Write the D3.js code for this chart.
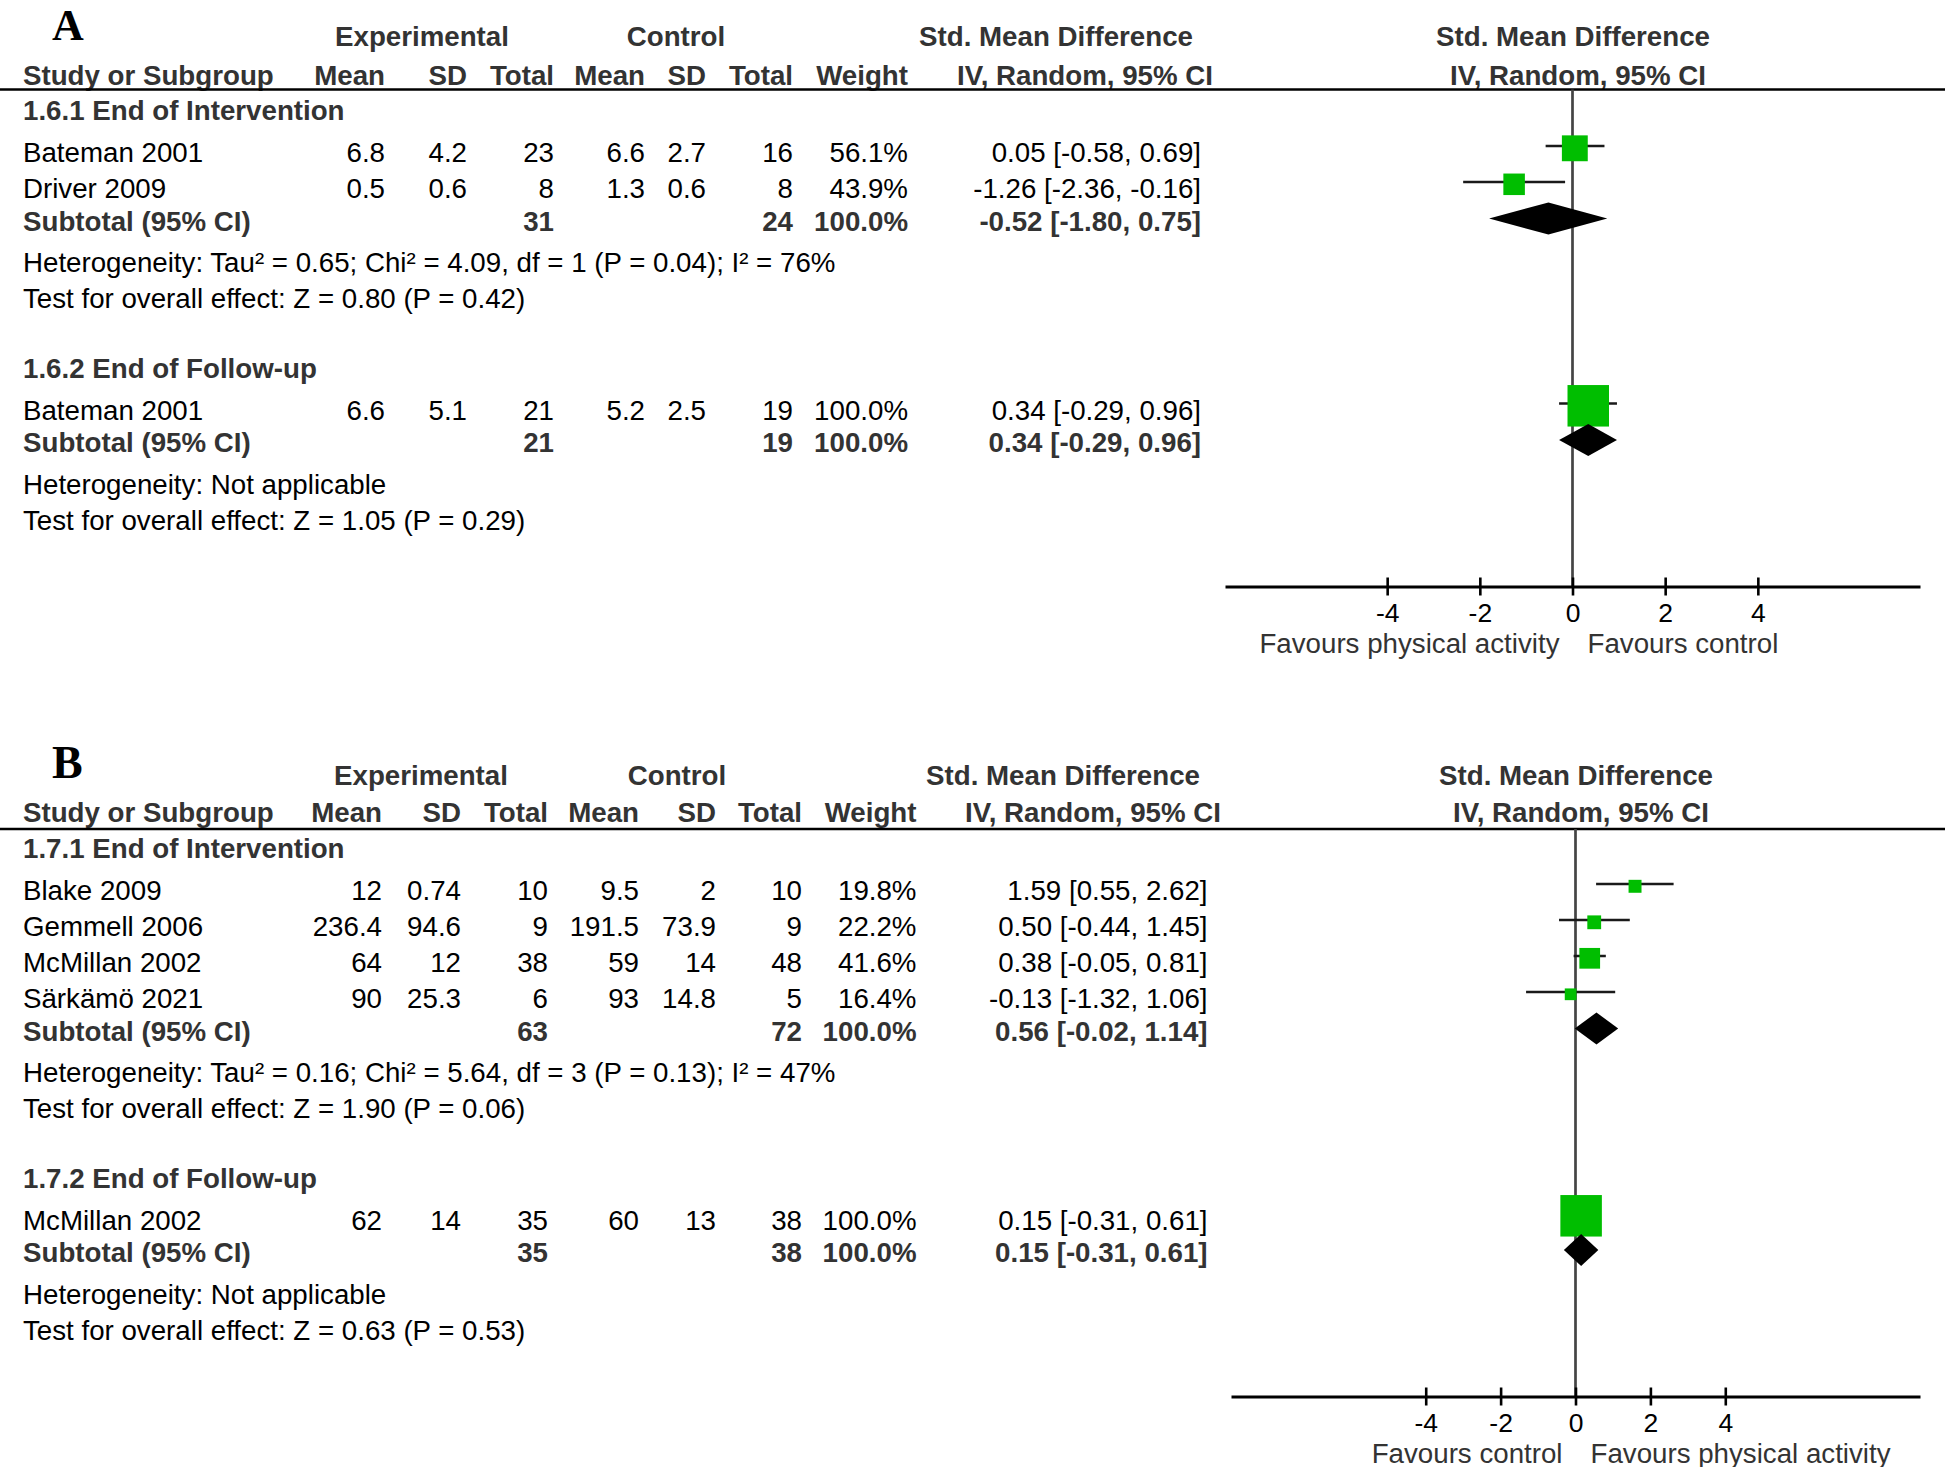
<!DOCTYPE html>
<html><head><meta charset="utf-8">
<script src="https://cdn.jsdelivr.net/npm/d3@7"></script>
<style>body{margin:0;background:#fff}</style>
</head><body>
<svg id="chart" width="1945" height="1467"></svg>
<script>
// ================= DATA =================
const panelLabels = ["A", "B"];
const headerTop = ["Experimental", "Control", "Std. Mean Difference", "Std. Mean Difference"];
const headerCols = ["Study or Subgroup", "Mean", "SD", "Total", "Mean", "SD", "Total", "Weight", "IV, Random, 95% CI", "IV, Random, 95% CI"];
const tickValues = [-4, -2, 0, 2, 4];
const favoursA = ["Favours physical activity", "Favours control"];
const favoursB = ["Favours control", "Favours physical activity"];

// Panel A, subgroup 1.6.1
const a1Name = "1.6.1 End of Intervention";
const a1Studies = ["Bateman 2001", "Driver 2009"];
const a1ExpMean = [6.8, 0.5];
const a1ExpSD = [4.2, 0.6];
const a1ExpN = [23, 8];
const a1CtlMean = [6.6, 1.3];
const a1CtlSD = [2.7, 0.6];
const a1CtlN = [16, 8];
const a1Weight = [56.1, 43.9];
const a1SMD = [0.05, -1.26];
const a1Lower = [-0.58, -2.36];
const a1Upper = [0.69, -0.16];
const a1Subtotal = [31, 24, 100.0, -0.52, -1.80, 0.75]; // expN, ctlN, weight, smd, lower, upper
const a1Het = "Heterogeneity: Tau² = 0.65; Chi² = 4.09, df = 1 (P = 0.04); I² = 76%";
const a1Test = "Test for overall effect: Z = 0.80 (P = 0.42)";

// Panel A, subgroup 1.6.2
const a2Name = "1.6.2 End of Follow-up";
const a2Studies = ["Bateman 2001"];
const a2ExpMean = [6.6];
const a2ExpSD = [5.1];
const a2ExpN = [21];
const a2CtlMean = [5.2];
const a2CtlSD = [2.5];
const a2CtlN = [19];
const a2Weight = [100.0];
const a2SMD = [0.34];
const a2Lower = [-0.29];
const a2Upper = [0.96];
const a2Subtotal = [21, 19, 100.0, 0.34, -0.29, 0.96];
const a2Het = "Heterogeneity: Not applicable";
const a2Test = "Test for overall effect: Z = 1.05 (P = 0.29)";

// Panel B, subgroup 1.7.1
const b1Name = "1.7.1 End of Intervention";
const b1Studies = ["Blake 2009", "Gemmell 2006", "McMillan 2002", "Särkämö 2021"];
const b1ExpMean = [12, 236.4, 64, 90];
const b1ExpSD = [0.74, 94.6, 12, 25.3];
const b1ExpN = [10, 9, 38, 6];
const b1CtlMean = [9.5, 191.5, 59, 93];
const b1CtlSD = [2, 73.9, 14, 14.8];
const b1CtlN = [10, 9, 48, 5];
const b1Weight = [19.8, 22.2, 41.6, 16.4];
const b1SMD = [1.59, 0.50, 0.38, -0.13];
const b1Lower = [0.55, -0.44, -0.05, -1.32];
const b1Upper = [2.62, 1.45, 0.81, 1.06];
const b1Subtotal = [63, 72, 100.0, 0.56, -0.02, 1.14];
const b1Het = "Heterogeneity: Tau² = 0.16; Chi² = 5.64, df = 3 (P = 0.13); I² = 47%";
const b1Test = "Test for overall effect: Z = 1.90 (P = 0.06)";

// Panel B, subgroup 1.7.2
const b2Name = "1.7.2 End of Follow-up";
const b2Studies = ["McMillan 2002"];
const b2ExpMean = [62];
const b2ExpSD = [14];
const b2ExpN = [35];
const b2CtlMean = [60];
const b2CtlSD = [13];
const b2CtlN = [38];
const b2Weight = [100.0];
const b2SMD = [0.15];
const b2Lower = [-0.31];
const b2Upper = [0.61];
const b2Subtotal = [35, 38, 100.0, 0.15, -0.31, 0.61];
const b2Het = "Heterogeneity: Not applicable";
const b2Test = "Test for overall effect: Z = 0.63 (P = 0.53)";

// ================= BUILD =================
function makeGroup(name, studies, em, esd, en, cm, csd, cn, w, smd, lo, hi, sub, het, test) {
  return {
    name, het, test,
    studies: studies.map((s, i) => ({name: s, em: em[i], esd: esd[i], en: en[i], cm: cm[i], csd: csd[i], cn: cn[i], w: w[i], smd: smd[i], lo: lo[i], hi: hi[i]})),
    sub: {en: sub[0], cn: sub[1], w: sub[2], smd: sub[3], lo: sub[4], hi: sub[5]}
  };
}
const groupsA = [
  makeGroup(a1Name, a1Studies, a1ExpMean, a1ExpSD, a1ExpN, a1CtlMean, a1CtlSD, a1CtlN, a1Weight, a1SMD, a1Lower, a1Upper, a1Subtotal, a1Het, a1Test),
  makeGroup(a2Name, a2Studies, a2ExpMean, a2ExpSD, a2ExpN, a2CtlMean, a2CtlSD, a2CtlN, a2Weight, a2SMD, a2Lower, a2Upper, a2Subtotal, a2Het, a2Test)
];
const groupsB = [
  makeGroup(b1Name, b1Studies, b1ExpMean, b1ExpSD, b1ExpN, b1CtlMean, b1CtlSD, b1CtlN, b1Weight, b1SMD, b1Lower, b1Upper, b1Subtotal, b1Het, b1Test),
  makeGroup(b2Name, b2Studies, b2ExpMean, b2ExpSD, b2ExpN, b2CtlMean, b2CtlSD, b2CtlN, b2Weight, b2SMD, b2Lower, b2Upper, b2Subtotal, b2Het, b2Test)
];

// ================= LAYOUT =================
const W = 1945;
const FONT = "'Liberation Sans', Arial, Helvetica, sans-serif";
const FS = 27.7;
const GREEN = "#00BE00";
const HEAD = "#333";

const layoutA = {
  letter: panelLabels[0], letterY: 40, letterSize: 44,
  h1: 46, h2: 85, lineY: 89.5, firstRow: 120,
  cols: [385, 467, 554, 645, 706, 793, 908, 1201],
  expC: 422, ctlC: 676, smdC: 1056, ivC: 1085,
  fSmdC: 1573, fIvC: 1578,
  domain: [-7.5, 7.5], range: [1225, 1920],
  favours: favoursA
};
const layoutB = {
  letter: panelLabels[1], letterY: 778, letterSize: 46,
  h1: 785, h2: 822, lineY: 829, firstRow: 858,
  cols: [382, 461, 548, 639, 716, 802, 916.5, 1207.5],
  expC: 421, ctlC: 677, smdC: 1063, ivC: 1093,
  fSmdC: 1576, fIvC: 1581,
  domain: [-9.2, 9.2], range: [1231, 1920],
  favours: favoursB
};

const svg = d3.select("#chart");
svg.append("rect").attr("width", W).attr("height", 1467).attr("fill", "#fff");

const sizeScale = d3.scaleLinear().domain([0, 100]).range([5.9, 41.5]);
const f2 = v => v.toFixed(2);
const f1 = v => v.toFixed(1);
const ciText = (s, lo, hi) => `${f2(s)} [${f2(lo)}, ${f2(hi)}]`;

function txt(g, x, y, s, opts = {}) {
  return g.append("text")
    .attr("x", x).attr("y", y)
    .attr("font-family", FONT)
    .attr("font-size", opts.size || FS)
    .attr("font-weight", opts.bold ? "bold" : "normal")
    .attr("fill", opts.fill || (opts.bold ? HEAD : "#000"))
    .attr("text-anchor", opts.anchor || "start")
    .text(s);
}

function drawPanel(groups, L) {
  const g = svg.append("g");
  const x = d3.scaleLinear().domain(L.domain).range(L.range);

  // panel letter
  g.append("text").attr("x", 52).attr("y", L.letterY)
    .attr("font-family", "'Liberation Serif', 'Times New Roman', serif")
    .attr("font-size", L.letterSize).attr("font-weight", "bold").attr("fill", "#000")
    .text(L.letter);

  // header row 1
  txt(g, L.expC, L.h1, headerTop[0], {bold: true, anchor: "middle"});
  txt(g, L.ctlC, L.h1, headerTop[1], {bold: true, anchor: "middle"});
  txt(g, L.smdC, L.h1, headerTop[2], {bold: true, anchor: "middle"});
  txt(g, L.fSmdC, L.h1, headerTop[3], {bold: true, anchor: "middle"});
  // header row 2
  txt(g, 23, L.h2, headerCols[0], {bold: true});
  for (let i = 0; i < 7; i++) txt(g, L.cols[i], L.h2, headerCols[i + 1], {bold: true, anchor: "end"});
  txt(g, L.ivC, L.h2, headerCols[8], {bold: true, anchor: "middle"});
  txt(g, L.fIvC, L.h2, headerCols[9], {bold: true, anchor: "middle"});

  // header rule
  g.append("line").attr("x1", 0).attr("x2", W).attr("y1", L.lineY).attr("y2", L.lineY)
    .attr("stroke", "#000").attr("stroke-width", 2.6);

  // rows
  let y = L.firstRow;
  const marks = [];
  groups.forEach((grp, gi) => {
    if (gi > 0) y += 69.5;
    txt(g, 23, y, grp.name, {bold: true});
    grp.studies.forEach((s, si) => {
      y += si === 0 ? 42 : 36;
      txt(g, 23, y, s.name);
      const vals = [s.em, s.esd, s.en, s.cm, s.csd, s.cn];
      vals.forEach((v, i) => txt(g, L.cols[i], y, String(v), {anchor: "end"}));
      txt(g, L.cols[6], y, f1(s.w) + "%", {anchor: "end"});
      txt(g, L.cols[7], y, ciText(s.smd, s.lo, s.hi), {anchor: "end"});
      marks.push({type: "study", y, d: s});
    });
    y += 32.5;
    txt(g, 23, y, "Subtotal (95% CI)", {bold: true});
    txt(g, L.cols[2], y, String(grp.sub.en), {bold: true, anchor: "end"});
    txt(g, L.cols[5], y, String(grp.sub.cn), {bold: true, anchor: "end"});
    txt(g, L.cols[6], y, f1(grp.sub.w) + "%", {bold: true, anchor: "end"});
    txt(g, L.cols[7], y, ciText(grp.sub.smd, grp.sub.lo, grp.sub.hi), {bold: true, anchor: "end"});
    marks.push({type: "sub", y, d: grp.sub});
    y += 41.5;
    txt(g, 23, y, grp.het);
    y += 36;
    txt(g, 23, y, grp.test);
  });

  const axisY = y + 57;

  // zero line
  g.append("line").attr("x1", x(0)).attr("x2", x(0)).attr("y1", L.lineY).attr("y2", axisY)
    .attr("stroke", "#444").attr("stroke-width", 2.7);

  // markers
  marks.forEach(m => {
    if (m.type === "study") {
      g.append("line").attr("x1", x(m.d.lo)).attr("x2", x(m.d.hi))
        .attr("y1", m.y - 16).attr("y2", m.y - 16)
        .attr("stroke", "#1a1a1a").attr("stroke-width", 2.6);
      const sz = sizeScale(m.d.w);
      g.append("rect").attr("x", x(m.d.smd) - sz / 2).attr("y", m.y - 13.7 - sz / 2)
        .attr("width", sz).attr("height", sz).attr("fill", GREEN);
    } else {
      const cy = m.y - 12, h = 16;
      g.append("path")
        .attr("d", `M${x(m.d.lo)},${cy} L${x(m.d.smd)},${cy - h} L${x(m.d.hi)},${cy} L${x(m.d.smd)},${cy + h} Z`)
        .attr("fill", "#000");
    }
  });

  // axis
  const axis = d3.axisBottom(x).tickValues(tickValues).tickSizeInner(9).tickSizeOuter(0)
    .tickFormat(d => String(d));
  const ag = g.append("g").attr("transform", `translate(0,${axisY})`).call(axis);
  ag.select(".domain").attr("stroke", "#000").attr("stroke-width", 3);
  ag.selectAll(".tick line").attr("y1", -9).attr("y2", 9).attr("stroke", "#000").attr("stroke-width", 2.6);
  ag.selectAll(".tick text").attr("y", 35).attr("dy", 0)
    .attr("font-family", FONT).attr("font-size", 26.5).attr("fill", "#000");

  // favours labels
  txt(g, x(0) - 13, axisY + 66, L.favours[0], {anchor: "end", fill: HEAD});
  txt(g, x(0) + 15, axisY + 66, L.favours[1], {anchor: "start", fill: HEAD});
}

drawPanel(groupsA, layoutA);
drawPanel(groupsB, layoutB);
</script>
</body></html>
